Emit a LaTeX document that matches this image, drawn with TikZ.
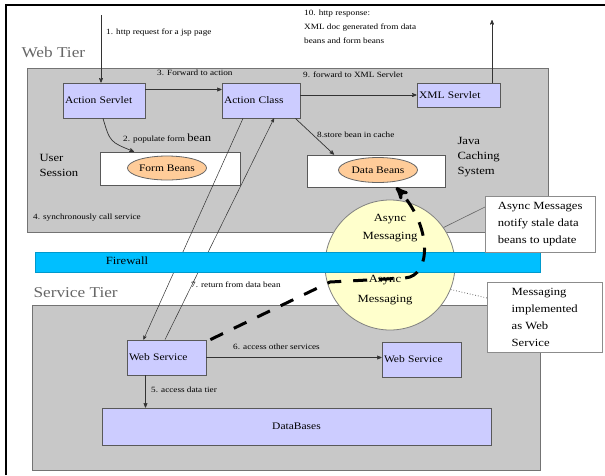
\documentclass[tikz,border=0pt]{standalone}
\usepackage{fontspec}
\setmainfont{Liberation Serif}[FakeStretch=1.15]
\usepackage{tikz}
\usetikzlibrary{arrows,shapes.geometric}

\definecolor{tiergray}{RGB}{200,200,200}
\definecolor{compblue}{RGB}{204,204,255}
\definecolor{beanorange}{RGB}{255,204,153}
\definecolor{msgyellow}{RGB}{255,255,204}
\definecolor{firewallblue}{RGB}{0,191,255}

\begin{document}
\begin{tikzpicture}[x=1pt,y=-1pt,>=stealth',
    tier/.style={draw=black!55,line width=1pt,fill=tiergray,anchor=north west},
    comp/.style={draw=black!65,line width=0.8pt,fill=compblue,inner xsep=2pt,text width=#1,align=left,
      minimum height=35pt,font=\fontsize{10}{12}\selectfont},
    holder/.style={draw=black!65,line width=0.8pt,fill=white},
    bean/.style={ellipse,draw=black!60,line width=0.8pt,fill=beanorange,inner sep=0pt,font=\fontsize{10}{12}\selectfont},
    note/.style={draw=black!45,fill=white,anchor=north west,align=left,inner sep=3pt,font=\fontsize{11}{17}\selectfont},
    lbl/.style={anchor=west,inner sep=1pt,font=\fontsize{8}{14}\selectfont,align=left},
    big/.style={font=\fontsize{11}{15}\selectfont,align=left},
    tiername/.style={anchor=west,text=black!60,font=\fontsize{15}{18}\selectfont},
    link/.style={->,draw=black!80,line width=0.7pt},
    async/.style={->,line width=3pt,dash pattern=on 14pt off 12pt}]

  \useasboundingbox (0,0) rectangle (605,475);
  \draw[line width=2.5pt] (6,475) -- (6,5) -- (605,5);

  \node[tier,minimum width=521pt,minimum height=164pt] (webtier) at (27,68) {};
  \node[tier,minimum width=508pt,minimum height=165pt] (servtier) at (32,305) {};
  \node[tiername] (webname) at (18,52) {Web Tier};
  \node[tiername] (servname) at (30,293) {Service Tier};

  \node[circle,draw=black!50,line width=0.8pt,fill=msgyellow,minimum size=130pt] (msg) at (390,265) {};

  \node[comp=78pt] (aservlet) at (104,100.5) {Action Servlet};
  \node[comp=74pt] (aclass) at (261,100.5) {Action Class};
  \node[comp=79pt,minimum height=24pt] (xservlet) at (458.5,95) {XML Servlet};

  \node[holder,minimum width=140pt,minimum height=33pt] (session) at (170,168.5) {};
  \node[bean,minimum width=78pt,minimum height=24pt] (fbeans) at (167,168) {Form Beans};
  \node[holder,minimum width=138pt,minimum height=32pt] (cache) at (376,171) {};
  \node[bean,minimum width=79pt,minimum height=25pt] (dbeans) at (378,170) {Data Beans};

  \node[big,anchor=west] (sessname) at (36,165) {User\\Session};
  \node[big,anchor=west] (cachename) at (454,157) {Java\\Caching\\System};

  \node[comp=75pt] (wsleft) at (166.5,357.5) {Web Service};
  \node[comp=75pt] (wsright) at (421.5,359.5) {Web Service};
  \node[comp=385pt,align=center,minimum height=37pt] (db) at (296.5,426.5) {DataBases};

  \coordinate (req) at (101,15);
  \coordinate (resp) at (492,20);

  \draw[link] (req) -- (aservlet.north -| req);
  \node[lbl] (l1) at (105,33) {1. http request for a jsp page};
  \draw[link] (xservlet.north -| resp) -- (resp);
  \node[lbl,anchor=north west] (l10) at (303,9) {10. http response:\\XML doc generated from data\\beans and form beans};

  \draw[link] ([yshift=11pt]aservlet.east) -- ([yshift=11pt]aclass.west);
  \node[lbl] (l3) at (156,73) {3. Forward to action};
  \draw[link] (aclass.east |- xservlet.west) -- (xservlet.west);
  \node[lbl] (l9) at (302,75) {9. forward to XML Servlet};

  \draw[link] ([xshift=-1pt]aservlet.south) .. controls (110,142) .. ([xshift=-36pt]session.north);
  \node[lbl] (l2) at (122,139) {2. populate form {\fontsize{11}{12}\selectfont bean}};
  \draw[link] ([xshift=-5pt]aclass.south east) -- ([xshift=-42pt]cache.north);
  \node[lbl] (l8) at (316,135) {8.store bean in cache};

  \draw[link,line width=0.5pt] ([xshift=-18pt]aclass.south) -- ([xshift=-23pt]wsleft.north);
  \draw[link,line width=0.5pt] ([xshift=-1.5pt]wsleft.north) -- ([xshift=13pt]aclass.south);
  \node[lbl] (l4) at (32,218) {4. synchronously call service};
  \node[lbl] (l7) at (190,285) {7. return from data bean};

  \node[fill=firewallblue,draw=firewallblue!80!black,line width=0.4pt,anchor=north west,
    minimum width=505pt,minimum height=20pt] (firewall) at (35,252) {};
  \node[font=\fontsize{11}{12}\selectfont] (fwname) at (127,261) {Firewall};

  \node[big,align=center,font=\fontsize{11}{18}\selectfont] (asyncup) at (390,228) {Async\\Messaging};
  \node[big,align=center,font=\fontsize{11}{20}\selectfont] (asynclow) at (385,290) {Async\\Messaging};

  \draw[link] (wsleft.east) -- (wsleft.east -| wsright.west);
  \node[lbl] (l6) at (232,347) {6. access other services};
  \draw[link] ([xshift=-21pt]wsleft.south) -- ([xshift=-21pt]wsleft.south |- db.north);
  \node[lbl] (l5) at (150,390) {5. access data tier};

  \node[note,minimum width=110pt,minimum height=56pt] (asyncnote) at (485,196) {Async Messages\\notify stale data\\beans to update};
  \draw[black!60,line width=0.6pt] ([yshift=-11pt]asyncnote.north west) -- (msg.35);
  \node[note,minimum width=115pt,minimum height=70pt] (wsnote) at (487,282) {Messaging\\implemented\\as Web\\Service};
  \draw[black!60,line width=0.8pt,dotted] (msg.-22) -- ([yshift=-16pt]wsnote.north west);

  \draw[async] ([xshift=4pt]wsleft.north east) -- (330,282) -- (405,278)
    .. controls (432,276) and (432,225) .. ([xshift=20pt]cache.south);
\end{tikzpicture}
\end{document}
